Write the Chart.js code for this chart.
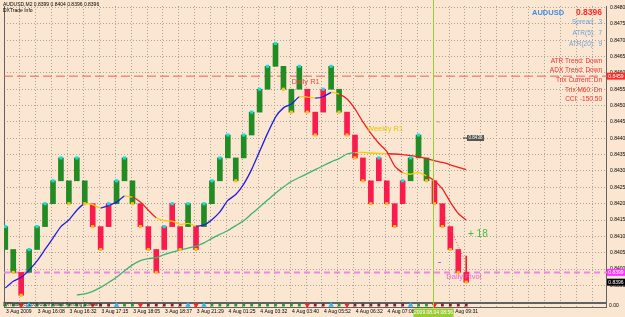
<!DOCTYPE html>
<html>
<head>
<meta charset="utf-8">
<title>AUDUSD,M2</title>
<script src="https://cdn.jsdelivr.net/npm/chart.js@4.4.1/dist/chart.umd.min.js"></script>
<style>
  html, body { margin: 0; padding: 0; background: #fbe7d1; }
  canvas { display: block; }
</style>
</head>
<body>
<canvas id="chart" width="625" height="317"></canvas>
<script>
// Brick bottoms and tops, left to right
const boxLow = [
    0.8406, 0.8399, 0.8392, 0.8399, 0.8406, 0.8413, 0.8420, 0.8427, 0.8420, 0.8427,
    0.8420, 0.8413, 0.8406, 0.8413, 0.8420, 0.8427, 0.8420, 0.8413, 0.8406, 0.8399,
    0.8406, 0.8413, 0.8406, 0.8413, 0.8406, 0.8413, 0.8420, 0.8427, 0.8434, 0.8427,
    0.8434, 0.8441, 0.8448, 0.8455, 0.8462, 0.8455, 0.8448, 0.8455, 0.8448, 0.8441,
    0.8448, 0.8455, 0.8448, 0.8441, 0.8434, 0.8427, 0.8420, 0.8427, 0.8420, 0.8413,
    0.8420, 0.8427, 0.8434, 0.8427, 0.8420, 0.8413, 0.8406, 0.8399, 0.8396
];
const boxHigh = [
    0.8413, 0.8406, 0.8399, 0.8406, 0.8413, 0.8420, 0.8427, 0.8434, 0.8427, 0.8434,
    0.8427, 0.8420, 0.8413, 0.8420, 0.8427, 0.8434, 0.8427, 0.8420, 0.8413, 0.8406,
    0.8413, 0.8420, 0.8413, 0.8420, 0.8413, 0.8420, 0.8427, 0.8434, 0.8441, 0.8434,
    0.8441, 0.8448, 0.8455, 0.8462, 0.8469, 0.8462, 0.8455, 0.8462, 0.8455, 0.8448,
    0.8455, 0.8462, 0.8455, 0.8448, 0.8441, 0.8434, 0.8427, 0.8434, 0.8427, 0.8420,
    0.8427, 0.8434, 0.8441, 0.8434, 0.8427, 0.8420, 0.8413, 0.8406, 0.8399
];
// g = green brick, r = red brick
const boxColor = ('ggrggggggg' + 'grrrgggrrr' + 'rrrgrggggg' +
                  'ggggggggrr' + 'rggrrrrrrr' + 'rgggrrrrr').split('');

// fast MA (blue / yellow / red) and slow MA (green / yellow / red)
const fastMa = [
    0.83942, 0.83963, 0.83975, 0.83997, 0.84025, 0.84060, 0.84095, 0.84130, 0.84150, 0.84180,
    0.84200, 0.84197, 0.84187, 0.84195, 0.84205, 0.84223, 0.84220, 0.84205, 0.84180, 0.84157,
    0.84148, 0.84147, 0.84137, 0.84140, 0.84132, 0.84135, 0.84151, 0.84175, 0.84210, 0.84228,
    0.84260, 0.84305, 0.84360, 0.84415, 0.84465, 0.84493, 0.84505, 0.84527, 0.84526, 0.84523,
    0.84527, 0.84540, 0.84535, 0.84520, 0.84490, 0.84450, 0.84415, 0.84385, 0.84360, 0.84315,
    0.84295, 0.84290, 0.84295, 0.84285, 0.84270, 0.84245, 0.84205, 0.84170, 0.84150
];
const fastState = ('B' + 'BBBBBBBBBB' + 'YY' + 'BBB' + 'Y' + 'RRR' + 'YYYYY' +
                   'BBBBBBBBBBBBB' + 'YY' + 'BB' + 'Y' + 'RRRRRRRR' + 'YYY' + 'RRRRR').split('');
const slowMa = [
    null, null, null, null, null, null, null, null, null, 0.83921,
    0.83924, 0.83932, 0.83944, 0.83959, 0.83975, 0.83995, 0.84013, 0.84026, 0.84032, 0.84035,
    0.84044, 0.84052, 0.84058, 0.84064, 0.84070, 0.84080, 0.84094, 0.84106, 0.84118, 0.84133,
    0.84148, 0.84169, 0.84190, 0.84211, 0.84232, 0.84251, 0.84268, 0.84280, 0.84292, 0.84304,
    0.84316, 0.84328, 0.84338, 0.84352, 0.84356, 0.84357, 0.84355, 0.84354, 0.84353, 0.84352,
    0.84350, 0.84347, 0.84343, 0.84338, 0.84332, 0.84326, 0.84319, 0.84311, 0.84304
];
const slowState = ('---------' + 'GGGGGGGGGGGGGGGGGGGGGGGGGGGGGGGGGGGG' + 'YYYY' + 'RRRRRRRRRR').split('');

// pivot levels
const levelPrices = [0.8459, 0.8399];
const levelNames = ['Daily R1', 'Daily Pivot'];

// last bar O H L C
const lastOhlc = [0.8399, 0.8404, 0.8396, 0.8396];

// dotted projection line
const trendX = [54.6, 57.75];
const trendY = [0.8420, 0.8403];

const yTicks = [
    0.8395, 0.8400, 0.8405, 0.8410, 0.8415, 0.8420, 0.8425, 0.8430, 0.8435,
    0.8440, 0.8445, 0.8450, 0.8455, 0.8460, 0.8465, 0.8470, 0.8475, 0.8480
];
const timeLabels = [
    '3 Aug 2009', '3 Aug 16:08', '3 Aug 16:32', '3 Aug 17:15', '3 Aug 18:05',
    '3 Aug 18:37', '3 Aug 21:29', '4 Aug 01:25', '4 Aug 03:32', '4 Aug 03:40',
    '4 Aug 05:52', '4 Aug 06:32', '4 Aug 07:08', '4 Aug 08:20', '4 Aug 09:31'
];

const infoBlue = ['Spread:  3', 'ATR(5):  7', 'ATR(20):  9'];
const infoRed = ['ATR Trend: Down', 'ADX Trend: Down', 'Trix Current: Dn', 'Trix M60: Dn', 'CCI: -150.50'];

const cursorIdx = 53.8;
const cursorTime = '2009.08.04 08:56';

// scale ranges (8px per brick, chart area 607 x 308)
const X_MIN = -0.1625, X_MAX = 75.7125;
const Y_MIN = 0.838811, Y_MAX = 0.848045;

const FONT = "'Liberation Sans', Arial, sans-serif";
const BG = '#fbe7d1';
const FAST_COL = { B: '#1e1ee6', Y: '#f2d000', R: '#f02020' };
const SLOW_COL = { G: '#3cb371', Y: '#f2d000', R: '#f02020' };

// derived series
const bars = boxLow.map((lo, i) => ({ x: i, y: [lo, boxHigh[i]] }));
const goesUp = boxHigh.map((h, i) => i === 0 || h > boxHigh[i - 1]);
const upDots = [], downDots = [];
boxHigh.forEach((h, i) => {
    if (goesUp[i]) upDots.push({ x: i, y: h });
    else downDots.push({ x: i, y: boxLow[i] });
});

const sigUp = [], sigDown = [], sqGreen = [], sqRed = [];
boxColor.forEach((col, i) => {
    const changed = i > 0 && col !== boxColor[i - 1];
    if (changed && col === 'g') sigUp.push({ x: i, y: 0 });
    else if (changed && col === 'r') sigDown.push({ x: i, y: 0 });
    else if (col === 'g') sqGreen.push({ x: i, y: 0 });
    else sqRed.push({ x: i, y: 0 });
});

const last = boxLow.length - 1;
const wick = [{ x: last, y: [Math.max(lastOhlc[0], lastOhlc[3]), lastOhlc[1]] }];

const gridIdx = [];
for (let k = 0; 2 * k - 0.16 < X_MAX; k++) gridIdx.push(2 * k - 0.16);

function marker(data, style, color, radius, rotation) {
    return {
        type: 'line', data: data, yAxisID: 'ys', showLine: false, order: 1, clip: false,
        pointStyle: style, pointRadius: radius, pointRotation: rotation || 0,
        pointBackgroundColor: color, pointBorderWidth: 0
    };
}

const datasets = [
    {
        type: 'line', order: 10, borderColor: '#e8605a', borderWidth: 1, borderDash: [9, 4],
        pointRadius: 0, data: [{ x: X_MIN, y: levelPrices[0] }, { x: X_MAX, y: levelPrices[0] }]
    },
    {
        type: 'line', order: 10, borderColor: '#ee88e6', borderWidth: 2, borderDash: [6, 4],
        pointRadius: 0, data: [{ x: X_MIN, y: levelPrices[1] }, { x: X_MAX, y: levelPrices[1] }]
    },
    {
        type: 'bar', order: 8, data: bars, grouped: false, barThickness: 5, borderWidth: 0,
        backgroundColor: boxColor.map(c => c === 'g' ? '#238b23' : '#fb1a4c')
    },
    {
        type: 'bar', order: 8, data: wick, grouped: false, barThickness: 1, borderWidth: 0,
        backgroundColor: '#f02020'
    },
    {
        type: 'line', order: 5, data: slowMa.map((v, i) => ({ x: i, y: v })),
        borderWidth: 1.3, pointRadius: 0, tension: 0.2, borderColor: SLOW_COL.G,
        segment: { borderColor: ctx => SLOW_COL[slowState[ctx.p1DataIndex]] || SLOW_COL.G }
    },
    {
        type: 'line', order: 4, data: fastMa.map((v, i) => ({ x: i, y: v })),
        borderWidth: 1.3, pointRadius: 0, tension: 0.2, borderColor: FAST_COL.B,
        segment: { borderColor: ctx => FAST_COL[fastState[ctx.p1DataIndex]] }
    },
    {
        type: 'line', order: 3, data: trendX.map((v, i) => ({ x: v, y: trendY[i] })),
        borderColor: '#e85050', borderWidth: 1, borderDash: [1, 2], pointRadius: 0
    },
    {
        type: 'line', order: 2, data: upDots, showLine: false, pointStyle: 'rect',
        pointRadius: 2.2, pointBackgroundColor: '#10e0e0', pointBorderWidth: 0
    },
    {
        type: 'line', order: 2, data: downDots, showLine: false, pointStyle: 'rect',
        pointRadius: 2.2, pointBackgroundColor: '#ffbf1a', pointBorderWidth: 0
    },
    marker(sqGreen, 'rect', '#1f9e2a', 2),
    marker(sqRed, 'rect', '#8b1c2c', 2),
    marker(sigUp, 'triangle', '#2cb6f0', 3.2),
    marker(sigDown, 'triangle', '#ff2020', 3.2, 180)
];

const overlay = {
    id: 'overlay',
    beforeDraw(chart) {
        const c = chart.ctx;
        c.save();
        c.fillStyle = BG;
        c.fillRect(0, 0, chart.width, chart.height);
        c.restore();
    },
    beforeDatasetsDraw(chart) {
        const c = chart.ctx, a = chart.chartArea;
        c.save();
        // panel separator and frame
        c.fillStyle = '#626262';
        c.fillRect(a.left, 302, a.right - a.left, 2);
        c.strokeStyle = '#626262';
        c.lineWidth = 1;
        c.beginPath();
        c.moveTo(a.left + 0.5, a.top); c.lineTo(a.left + 0.5, a.bottom);
        c.moveTo(a.right - 0.5, a.top); c.lineTo(a.right - 0.5, a.bottom);
        c.moveTo(a.left, a.bottom - 0.5); c.lineTo(a.right, a.bottom - 0.5);
        c.stroke();
        c.restore();
    },
    afterDraw(chart) {
        const c = chart.ctx, x = chart.scales.x, y = chart.scales.y;
        const text = (t, px, py, size, color, align, bold) => {
            c.font = (bold ? 'bold ' : '') + size + 'px ' + FONT;
            c.fillStyle = color;
            c.textAlign = align || 'left';
            c.textBaseline = 'middle';
            c.fillText(t, px, py);
        };
        c.save();

        // crosshair and its time box
        const cx = Math.round(x.getPixelForValue(cursorIdx)) + 0.5;
        c.strokeStyle = '#9acd32';
        c.lineWidth = 1;
        c.beginPath(); c.moveTo(cx, 0); c.lineTo(cx, 308); c.stroke();
        c.fillStyle = '#9acd32';
        c.fillRect(cx - 20, 308.5, 40, 8.5);
        text(cursorTime, cx, 313, 5, '#ffffff', 'center');

        // level names
        text(levelNames[0], x.getPixelForValue(36), y.getPixelForValue(levelPrices[0]) + 6, 7.5, '#e84848');
        text(levelNames[1], x.getPixelForValue(55.5), y.getPixelForValue(levelPrices[1]) + 5, 7.5, '#f060d0');
        text('Weekly R1', 367, 129, 7.5, '#e8c400');
        text('+ 18', 468, 234, 10, '#3cc03c');

        // small price tag
        c.fillStyle = '#333';
        c.fillRect(463, 137.5, 4, 1);
        c.fillStyle = '#555';
        c.fillRect(467, 135, 17, 6);
        text('0.8438', 475.5, 138.2, 4.5, '#ffffff', 'center');
        c.fillStyle = '#f0a0a0';
        c.fillRect(437, 121, 3, 1.5);
        c.fillStyle = '#8080e0';
        c.fillRect(438, 262, 3, 1);

        // price boxes on the axis
        const boxes = [[levelPrices[0], '#ff2a2a'], [levelPrices[1], '#ff33ff'], [lastOhlc[3], '#000000']];
        boxes.forEach(([p, col]) => {
            const py = y.getPixelForValue(p);
            c.fillStyle = col;
            c.fillRect(607, py - 3.5, 18, 7);
            text(p.toFixed(4), 616, py + 0.2, 5, '#ffffff', 'center');
        });
        text('0.00', 609, 305.5, 5, '#000');

        // header
        text('AUDUSD,M2 ' + lastOhlc.map(v => v.toFixed(4)).join(' '), 3, 5, 5, '#000');
        text('DXTrade Info', 3, 11, 5, '#000');
        text('DXTrade (c) 2008-2009 Patent Pending Software', 3, 305, 4.5, '#333');

        // info panel
        text('AUDUSD', 532, 13, 7.5, '#3c8ce8', 'left', true);
        text(lastOhlc[3].toFixed(4), 602, 13, 8.5, '#ff2828', 'right', true);
        infoBlue.forEach((t, i) => text(t, 602, 22.7 + i * 10.8, 6.5, '#6f9fdc', 'right'));
        infoRed.forEach((t, i) => text(t, 602, 61 + i * 9.6, 6.5, '#f03030', 'right'));

        c.restore();
    }
};

new Chart(document.getElementById('chart'), {
    type: 'bar',
    data: { datasets: datasets },
    options: {
        responsive: false,
        animation: false,
        devicePixelRatio: 1,
        layout: { padding: 0 },
        plugins: { legend: { display: false }, tooltip: { enabled: false } },
        scales: {
            x: {
                type: 'linear', min: X_MIN, max: X_MAX, offset: false,
                grid: { offset: false, color: '#a9a39c', drawTicks: false, lineWidth: 1 },
                border: { display: false, dash: [1, 2] },
                afterBuildTicks: s => { s.ticks = gridIdx.map(v => ({ value: v })); },
                afterFit: s => { s.height = 9; },
                ticks: {
                    autoSkip: false, maxRotation: 0, minRotation: 0, align: 'start',
                    labelOffset: 2, padding: 1, color: '#000',
                    font: { family: FONT, size: 5 },
                    callback: (v, i) => i % 2 === 0 ? (timeLabels[i / 2] || '') : ''
                }
            },
            y: {
                type: 'linear', position: 'right', min: Y_MIN, max: Y_MAX,
                grid: { color: '#a9a39c', drawTicks: false, lineWidth: 1 },
                border: { display: false, dash: [1, 2] },
                afterBuildTicks: s => { s.ticks = yTicks.map(v => ({ value: v })); },
                afterFit: s => { s.width = 18; },
                ticks: {
                    padding: 3, color: '#000', font: { family: FONT, size: 5 },
                    callback: v => v.toFixed(4)
                }
            },
            ys: { type: 'linear', axis: 'y', display: false, min: -1, max: 102 }
        }
    },
    plugins: [overlay]
});
</script>
</body>
</html>
